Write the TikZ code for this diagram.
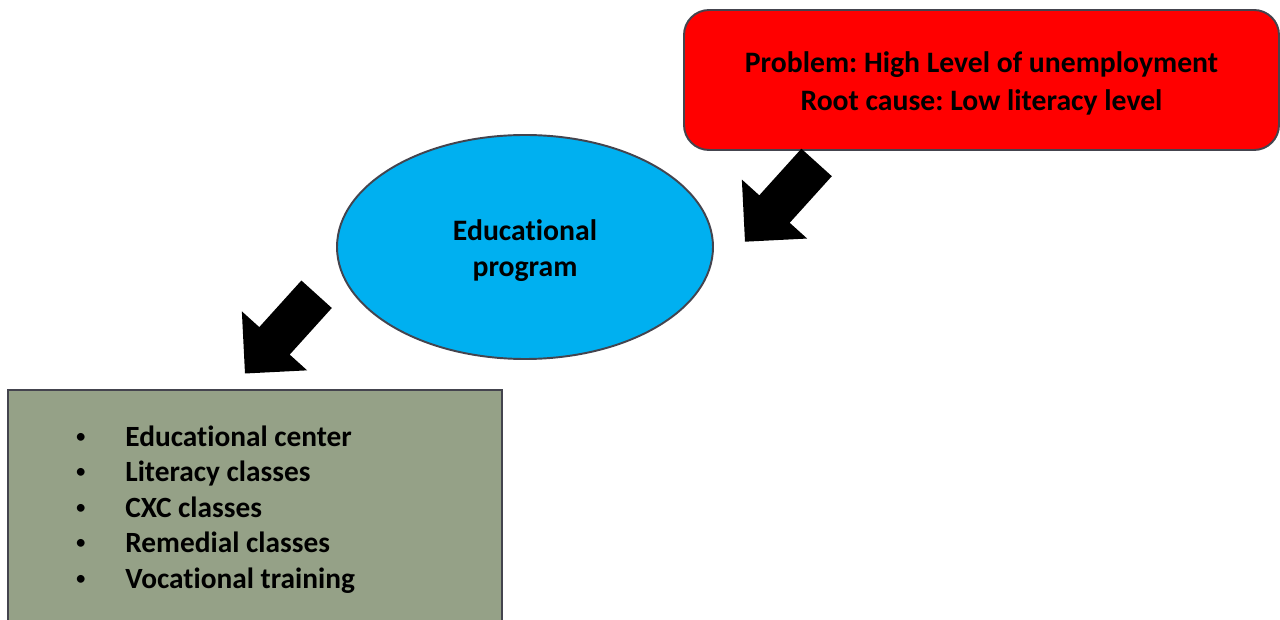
\documentclass[tikz,border=0pt]{standalone}
\usepackage{fontspec}
\setmainfont[Ligatures=NoCommon]{Carlito}
\usetikzlibrary{shapes.geometric}
\frenchspacing

\definecolor{probred}{RGB}{255,0,0}
\definecolor{progblue}{RGB}{0,176,240}
\definecolor{actgreen}{RGB}{149,161,135}
\definecolor{edgegray}{RGB}{68,68,78}

\newcommand{\dotitem}{\raisebox{1.6pt}{\fontsize{12.5}{12.5}\selectfont\mdseries\textbullet}}

\tikzset{
    boxline/.style={draw=edgegray, line width=1.1pt},
    boxtext/.style={align=center, font=\fontsize{16.9}{#1}\selectfont\bfseries},
    bigarrow/.style={fill=black},
}

\begin{document}
\begin{tikzpicture}
    \useasboundingbox (0,0) rectangle (25.6,12.38);

    % problem and root cause
    \node[boxline, fill=probred, rounded corners=0.5cm, minimum width=11.9cm, minimum height=2.8cm] (problem) at (19.63,10.78) {};
    \node[boxtext=21.6pt] (problemtext) at ([yshift=-0.07cm]problem.center)
          {Problem: High Level of unemployment\\Root cause: Low literacy level};

    % the program
    \node[ellipse, boxline, fill=progblue, minimum width=7.52cm, minimum height=4.48cm] (program) at (10.5,7.44) {};
    \node[boxtext=20.5pt] (programtext) at ([yshift=-0.07cm]program.center) {Educational\\program};

    % activities
    \node[boxline, fill=actgreen, minimum width=9.88cm, minimum height=4.88cm] (actions) at (5.1,2.14) {};
    \node[anchor=west, inner sep=0pt, font=\fontsize{16.7}{20.2}\selectfont\bfseries] (list) at (1.5,2.18) {%
        \begin{tabular}{@{}p{1cm}@{}l@{}}
            \dotitem & Educational center\\
            \dotitem & Literacy classes\\
            \dotitem & CXC classes\\
            \dotitem & Remedial classes\\
            \dotitem & Vocational training
        \end{tabular}};

    % block arrows
    \coordinate (tipA) at (14.9,7.546);
    \coordinate (tipB) at (4.9,4.91);
    \fill[bigarrow, shift={(tipA)}, rotate=47.9] (0,0) -- (0.88,0.88) -- (0.88,0.41) -- (2.136,0.41)
        -- (2.136,-0.41) -- (0.88,-0.41) -- (0.88,-0.88) -- cycle;
    \fill[bigarrow, shift={(tipB)}, rotate=47.9] (0,0) -- (0.88,0.88) -- (0.88,0.41) -- (2.136,0.41)
        -- (2.136,-0.41) -- (0.88,-0.41) -- (0.88,-0.88) -- cycle;
\end{tikzpicture}
\end{document}
